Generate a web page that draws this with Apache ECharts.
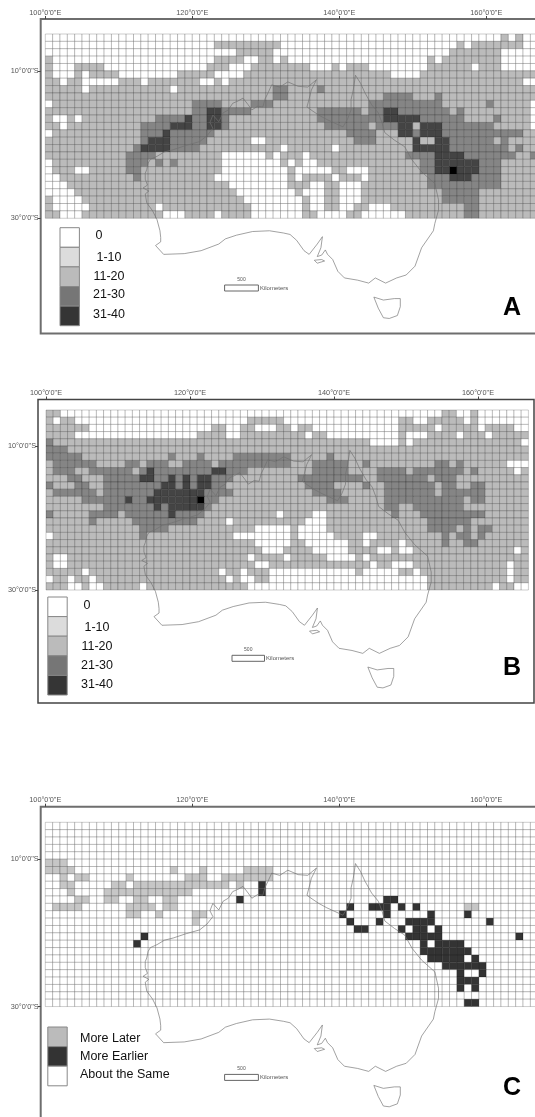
<!DOCTYPE html>
<html lang="en">
  <head>
    <meta charset="UTF-8" />
    <title>Australia grid maps A B C</title>
    <script src="https://cdn.jsdelivr.net/npm/echarts@6/dist/echarts.min.js"></script>
    <style>
      html, body { margin: 0; background: #fff; }
    </style>
  </head>
  <body>
    <div id="main" style="width: 535px; height: 1117px; filter: blur(0.4px)"></div>

    <script type="text/javascript">
      const lonTicks = [100, 120, 140, 160];
      const latTicks = [-10, -30];
      const legendCounts = ["0", "1-10", "11-20", "21-30", "31-40"];
      const legendChange = ["More Later", "More Earlier", "About the Same"];

      // one string per 1 degree row from 5S down, one digit per column from 100E
      const rowsA = [
        "0000000000 0000000000 0000000000 0000000000 0000000000 0000000000 0020200",
        "0000000000 0000000000 0002222222 2200000000 0000000000 0000002022 2222200",
        "0000000000 0000000000 0000002222 2000000000 0000000000 0000022222 2200000",
        "2000000000 0000000000 0002222002 2020000000 0000000000 0020222222 2200000",
        "2000222200 0000000000 0022200022 2222220002 0222000000 0022222202 2200000",
        "2000202222 0000000022 2220000222 2222222222 2222222000 0222222222 2222222",
        "2202200000 2220222222 2002022222 2222222222 2222222222 2222222222 2222200",
        "2222202222 2222222022 2222222222 2332222322 2222222222 2222222222 2222222",
        "2222222222 2222222222 2222222222 2332222222 2222223333 2223222222 2222222",
        "0222222222 2222222222 3333222233 3222222222 2222333333 3333222222 3222220",
        "2222222222 2222222222 3344333322 2222222333 3332334433 3333323222 2222220",
        "2002022222 2222233334 3344322222 2222222333 3333334444 4333333222 2322220",
        "2202222222 2223333444 3344322222 2222222233 3333233344 2444333333 3222220",
        "0222222222 2223334333 3332222222 2222222222 2333322244 3444333333 3333322",
        "2222222222 2223444333 3322222200 2222222222 2233322222 4224433333 3232222",
        "2222222222 2234444333 3222222222 2202222220 2222222222 4444433333 3332322",
        "2222222222 2333322222 2222000000 2022202222 2222222223 3334444333 3333223",
        "0222222222 2333232322 2222000000 0020200222 2222222222 2334444443 3322222",
        "0222002222 2332222222 2222000000 0002000002 2000222222 2334454443 3322222",
        "0022222222 2232222222 2220000000 0002022220 2220222222 2233344433 3322222",
        "0002222222 2222222222 2222200000 0002220022 0002222222 2233333333 3322222",
        "0000222222 2222222222 2222220000 0000200022 0002222222 2222333332 2222222",
        "2000022222 2222222222 2222222000 0000020022 0002222222 2222333332 2222222",
        "2000002222 2222202222 2222222200 0000020022 0022000222 2222222332 2222222",
        "2200022222 2222220002 2220222200 0000022000 0220000002 2222222332 2222222",
      ];
      const rowsB = [
        "2200000000 0000000000 0000000000 0000000000 0000000000 0000022002 0000000",
        "2022000000 0000000000 0000000022 2220000000 0000000002 2002222202 0000000",
        "2222220000 0000000000 0002200220 0022022000 0000000002 2222022222 0222200",
        "2222000000 0000000000 0222200222 2222220220 0000000002 0002222022 2022222",
        "3222222222 2222222222 2222222222 2222222222 2222200002 0222222222 2222220",
        "3332222222 2222222222 2222222222 2222222222 2222222222 2222222222 2222222",
        "3333322222 2222222322 2322223333 3333222223 2222222222 2222222222 2222222",
        "2333333222 2332333223 3332333333 3333222333 3322322222 2222332322 2222000",
        "2333223333 3323433333 3334433322 2222222333 3322223333 2333333323 2222202",
        "2223322233 3334433434 3443332222 2222233333 3333223333 3332333222 2222222",
        "3222332233 3333334434 3443322222 2222223333 2222322333 3333233223 3222222",
        "2333333233 3333344444 4433332222 2222222333 3222222333 3333233333 3222222",
        "2222233333 3433444444 4533222222 2222222223 3322222333 3333333323 3222222",
        "2222222233 3333343444 4432222222 2222222222 2222222332 2333333322 2222222",
        "3222223333 2333333433 3322222222 2202222002 2222222232 2233333333 3222222",
        "2222223222 2233333333 3222202222 2222220002 2222222222 2223333332 2222222",
        "2222222222 2223333222 2222222220 0000200002 2222222222 2223333232 3322222",
        "0222222222 2223222222 2222220000 0000200000 2222002222 2222232332 3222222",
        "2222222222 2222222222 2222222220 0000220000 0022022220 2222232233 2222222",
        "2222222222 2222222222 2222222222 0002222000 0022220020 0222222222 2222202",
        "2002222222 2222222222 2222222202 2220222220 0002022222 2222222222 2222222",
        "2002222222 2222222222 2222222220 0222222222 2222202200 0222222222 2222022",
        "2222202222 2222222222 2222022022 2000000000 0002000002 2022222222 2222022",
        "0220220222 2222222222 2222202002 2000000000 0000000000 0002222222 2222022",
        "2220020022 2220222222 2222222200 0000000000 0000000000 0002222222 2202200",
      ];
      const rowsC = [
        "0000000000 0000000000 0000000000 0000000000 0000000000 0000000000 0000000",
        "0000000000 0000000000 0000000000 0000000000 0000000000 0000000000 0000000",
        "0000000000 0000000000 0000000000 0000000000 0000000000 0000000000 0000000",
        "0000000000 0000000000 0000000000 0000000000 0000000000 0000000000 0000000",
        "0000000000 0000000000 0000000000 0000000000 0000000000 0000000000 0000000",
        "1110000000 0000000000 0000000000 0000000000 0000000000 0000000000 0000000",
        "1111000000 0000000100 0100000111 1000000000 0000000000 0000000000 0000000",
        "0010110000 0100000001 1100111111 1000000000 0000000000 0000000000 0000000",
        "0011000001 1011111111 1111101002 0000000000 0000000000 0000000000 0000000",
        "0001000011 1111111111 0000000002 0000000000 0000000000 0000000000 0000000",
        "0000110011 0011001100 0000002000 0000000000 0000002200 0000000000 0000000",
        "0111100000 0111101100 0000000000 0000000000 0200222020 2000000110 0000000",
        "0000000000 0110010000 1100000000 0000000000 2000002000 0020000200 0000000",
        "0000000000 0000000000 1000000000 0000000000 0200020002 2220000000 2000000",
        "0000000000 0000000000 0000000000 0000000000 0022000020 2202000000 0000000",
        "0000000000 0002000000 0000000000 0000000000 0000000002 2222000000 0000200",
        "0000000000 0020000000 0000000000 0000000000 0000000000 0202222000 0000000",
        "0000000000 0000000000 0000000000 0000000000 0000000000 0222222200 0000000",
        "0000000000 0000000000 0000000000 0000000000 0000000000 0022222020 0000000",
        "0000000000 0000000000 0000000000 0000000000 0000000000 0000222222 0000000",
        "0000000000 0000000000 0000000000 0000000000 0000000000 0000002002 0000000",
        "0000000000 0000000000 0000000000 0000000000 0000000000 0000002220 0000000",
        "0000000000 0000000000 0000000000 0000000000 0000000000 0000002020 0000000",
        "0000000000 0000000000 0000000000 0000000000 0000000000 0000000000 0000000",
        "0000000000 0000000000 0000000000 0000000000 0000000000 0000000220 0000000",
      ];

      const coastMain = [
        [115.0,-33.7],[115.7,-33.2],[115.7,-32.6],[115.6,-31.7],[115.2,-30.2],[114.6,-29.0],[113.8,-27.9],
        [113.6,-26.7],[114.1,-26.3],[113.3,-25.9],[113.9,-25.5],[113.6,-24.7],[113.6,-23.9],[113.8,-23.4],
        [114.0,-22.5],[114.3,-22.0],[115.2,-21.6],[116.2,-21.0],[117.4,-20.7],[119.2,-20.1],[121.0,-19.6],
        [122.0,-18.8],[122.8,-17.8],[122.4,-17.0],[122.8,-16.0],[123.6,-16.9],[124.2,-15.7],[124.9,-15.3],
        [125.5,-14.4],[126.2,-14.1],[126.9,-13.7],[127.6,-14.6],[128.1,-15.3],[128.9,-14.8],[129.6,-14.9],
        [129.9,-13.8],[130.3,-13.0],[130.8,-11.9],[131.9,-12.2],[133.0,-11.5],[134.4,-12.1],[135.7,-12.2],
        [136.9,-11.2],[136.2,-12.6],[135.9,-13.8],[135.6,-14.9],[136.3,-15.4],[137.2,-16.0],[138.3,-16.6],
        [139.4,-17.1],[140.5,-17.6],[141.1,-16.6],[141.6,-15.3],[141.6,-13.9],[141.9,-12.6],[142.2,-10.6],
        [142.9,-11.7],[143.5,-13.0],[144.4,-14.6],[145.3,-15.7],[145.8,-17.0],[146.2,-18.4],[147.5,-19.4],
        [148.9,-20.3],[149.9,-22.1],[151.2,-23.7],[153.0,-25.3],[153.5,-27.5],[153.5,-28.9],[153.0,-30.7],
        [152.8,-31.7],[151.2,-34.0],[150.3,-36.5],[149.1,-37.7],[147.8,-38.1],[146.3,-38.8],[144.9,-38.1],
        [144.0,-38.8],[142.5,-38.4],[140.7,-38.1],[139.8,-37.2],[139.1,-35.6],[138.4,-34.9],[138.1,-34.3],
        [137.6,-35.0],[137.0,-35.2],[137.5,-34.0],[137.7,-32.5],[137.0,-33.5],[135.9,-34.9],[135.2,-34.4],
        [134.2,-33.0],[133.3,-32.2],[132.4,-32.0],[130.5,-31.7],[128.2,-31.8],[126.0,-32.3],[124.5,-32.8],
        [123.6,-33.5],[121.2,-34.4],[118.9,-34.8],[116.1,-34.9],[115.0,-33.7],
      ];
      const coastTasmania = [
        [144.7,-40.7],[146.0,-41.1],[147.5,-40.9],[148.3,-40.9],[148.3,-42.0],[147.9,-43.2],
        [146.8,-43.6],[146.0,-43.5],[145.3,-42.2],[144.7,-40.7],
      ];
      const coastKangaroo = [[136.6,-35.7],[137.6,-35.6],[138.0,-35.8],[137.0,-36.1],[136.6,-35.7]];

      const countColors = ["#ffffff", "#dcdcdc", "#bbbbbb", "#858585", "#444444", "#000000"];
      const changeColors = ["#ffffff", "#c6c6c6", "#333333"];
      const legendCountColors = ["#ffffff", "#dcdcdc", "#bbbbbb", "#767676", "#353535"];
      const legendChangeColors = ["#bbbbbb", "#333333", "#ffffff"];

      // frame and 1 degree scale of each map, in page pixels
      const panels = [
        { rows: rowsA, colors: countColors, frame: [40.7, 19, 510, 314.5], x100: 45.3, y5: 34, ppx: 7.35, ppy: 7.37, border: 2, borderColor: "#6e6e6e" },
        { rows: rowsB, colors: countColors, frame: [38, 399.5, 496, 303.5], x100: 46, y5: 410, ppx: 7.2, ppy: 7.2, border: 1.5, borderColor: "#444444" },
        { rows: rowsC, colors: changeColors, frame: [40.7, 806.7, 510, 330], x100: 45.3, y5: 822.3, ppx: 7.35, ppy: 7.37, border: 2, borderColor: "#6e6e6e" },
      ];

      let myChart = echarts.init(document.getElementById("main"));

      const grids = [], xAxes = [], yAxes = [], series = [];

      panels.forEach((p, i) => {
        const [left, top, width, height] = p.frame;
        const cells = [];
        p.rows.forEach((row, r) => {
          row.replace(/ /g, "").split("").forEach((v, c) => {
            cells.push([100 + c, -5 - r, Number(v)]);
          });
        });
        const lonMin = 100 - (p.x100 - left) / p.ppx;
        const latMax = -5 + (p.y5 - top) / p.ppy;

        grids.push({ left, top, width, height, outerBoundsMode: "none", show: true, borderWidth: p.border, borderColor: p.borderColor, backgroundColor: "#fff" });
        xAxes.push({
          gridIndex: i,
          type: "value",
          position: "top",
          min: lonMin,
          max: lonMin + width / p.ppx,
          splitLine: { show: false },
          axisLine: { show: false },
          axisTick: { show: true, length: 3, customValues: lonTicks, lineStyle: { color: "#444" } },
          axisLabel: {
            customValues: lonTicks,
            margin: 3,
            fontSize: 7.3,
            color: "#555",
            fontFamily: "Liberation Sans",
            formatter: (v) => v + "\u00b00'0\"E",
          },
        });
        yAxes.push({
          gridIndex: i,
          type: "value",
          max: latMax,
          min: latMax - height / p.ppy,
          splitLine: { show: false },
          axisLine: { show: false },
          axisTick: { show: true, length: 3, customValues: latTicks, lineStyle: { color: "#444" } },
          axisLabel: {
            customValues: latTicks,
            margin: 2,
            fontSize: 7.3,
            color: "#555",
            fontFamily: "Liberation Sans",
            formatter: (v) => Math.abs(v) + "\u00b00'0\"S",
          },
        });
        series.push({
          type: "custom",
          xAxisIndex: i,
          yAxisIndex: i,
          data: cells,
          encode: { x: 0, y: 1 },
          silent: true,
          animation: false,
          renderItem: (params, api) => {
            const a = api.coord([api.value(0), api.value(1)]);
            const b = api.coord([api.value(0) + 1, api.value(1) - 1]);
            return {
              type: "rect",
              shape: { x: a[0], y: a[1], width: b[0] - a[0], height: b[1] - a[1] },
              style: { fill: p.colors[api.value(2)], stroke: "rgba(0,0,0,0.22)", lineWidth: 0.9 },
            };
          },
        });
        [coastMain, coastTasmania, coastKangaroo].forEach((coast) => {
          series.push({
            type: "line",
            xAxisIndex: i,
            yAxisIndex: i,
            data: coast,
            showSymbol: false,
            silent: true,
            animation: false,
            z: 5,
            lineStyle: { color: "#707070", width: 0.65 },
          });
        });
      });

      // legends, scale bars and panel letters
      const graphic = [];
      const label = (x, y, text, size, opts) =>
        graphic.push({
          type: "text",
          x,
          y,
          z: 20,
          style: Object.assign({ text, fontSize: size, fontFamily: "Liberation Sans", fill: "#111", align: "center", verticalAlign: "middle" }, opts),
        });
      const swatch = (x, y, w, h, fill, stroke) =>
        graphic.push({ type: "rect", z: 20, shape: { x, y, width: w, height: h }, style: { fill, stroke: stroke, lineWidth: 1 } });

      [[60, 227.7, [99, 109, 109, 109, 109], [236, 258, 277, 295, 315]],
       [47.8, 597, [87, 97, 97, 97, 97], [606, 628, 647, 665.5, 685]]].forEach(([sx, sy, lx, ly]) => {
        legendCounts.forEach((t, k) => {
          swatch(sx, sy + k * 19.6, 19.4, 19.6, legendCountColors[k], "#888");
          label(lx[k], ly[k], t, 12.5);
        });
      });
      legendChangeColors.forEach((c, k) => swatch(47.8, 1027 + k * 19.6, 19.4, 19.6, c, "#888"));
      [1038.6, 1056.7, 1075].forEach((y, k) => label(80, y, legendChange[k], 12.5, { align: "left" }));

      [[224.6, 285, 33.8], [232, 655.3, 32.5], [224.6, 1074.4, 33.8]].forEach(([x, y, w]) => {
        swatch(x, y, w, 6, "#fff", "#666");
        label(x + w / 2, y - 5.4, "500", 5, { fill: "#555" });
        label(x + w + 1.5, y + 3, "Kilometers", 6, { align: "left", fill: "#555" });
      });

      label(512, 308, "A", 25, { fontWeight: "bold", fill: "#000" });
      label(512, 668.6, "B", 25, { fontWeight: "bold", fill: "#000" });
      label(512, 1087.7, "C", 25, { fontWeight: "bold", fill: "#000" });

      myChart.setOption({
        animation: false,
        grid: grids,
        xAxis: xAxes,
        yAxis: yAxes,
        series,
        graphic,
      });
    </script>
  </body>
</html>
